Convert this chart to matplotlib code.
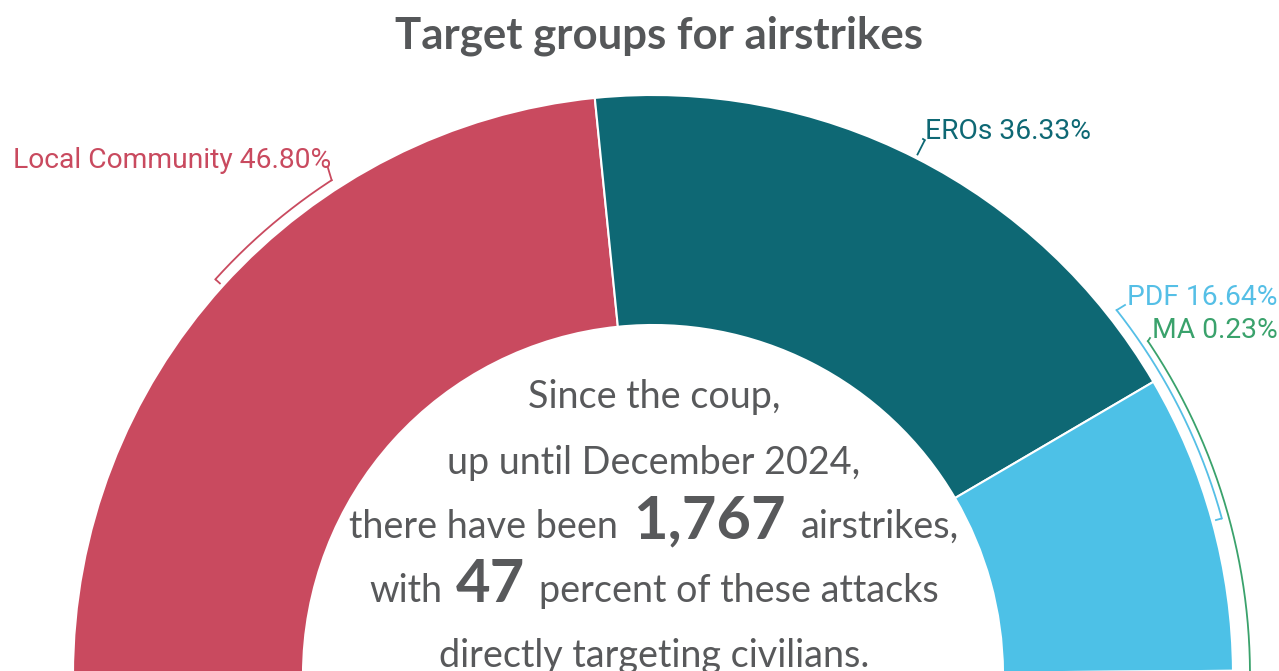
import matplotlib.pyplot as plt
from matplotlib.patches import Wedge
import numpy as np

plt.rcParams['font.family'] = ['Lato', 'DejaVu Sans']

groups = ['Local Community', 'EROs', 'PDF', 'MA']
shares = [46.80, 36.33, 16.64, 0.23]
total_strikes = '1,767'
civilian_pct = '47'

colors = ['#C94A5F', '#0E6874', '#4DC1E7', '#3BA56D']
label_colors = ['#C94A5F', '#0E6874', '#55BFE6', '#3AA26C']
grey = '#58595B'

W, H = 1279, 671
cx, cy = 653, -4          # centre of the half donut (just under the bottom edge)
r_out, r_in = 580, 350

# label layout: where each bracket ends, its radius, and where the text sits
brk_end = [123.0, None, 38.2, 34.0]
brk_r = [590, 600, 590, 597]
lbl_xy = [(331, 503), (925, 532), (1127, 366), (1152, 333)]
lbl_ha = ['right', 'left', 'left', 'left']
lbl_size = 20.3

fig = plt.figure(figsize=(W / 100, H / 100), dpi=100)
ax = fig.add_axes([0, 0, 1, 1])
ax.set_xlim(0, W)
ax.set_ylim(0, H)
ax.axis('off')


def polar(r, a):
    a = np.deg2rad(a)
    return cx + r * np.cos(a), cy + r * np.sin(a)


# wedges, clockwise from the left
theta = 180.0
mids = []
for share, col in zip(shares, colors):
    span = share / sum(shares) * 180.0
    ax.add_patch(Wedge((cx, cy), r_out, theta - span, theta, width=r_out - r_in,
                       facecolor=col, edgecolor='white', linewidth=1.5))
    mids.append(theta - span / 2)
    theta -= span

# brackets + labels
for i, name in enumerate(groups):
    col = label_colors[i]
    a0 = mids[i]
    a1 = brk_end[i] if brk_end[i] is not None else a0
    rb = brk_r[i]
    # tick from the wedge edge out to the bracket
    p0 = polar(r_out + 3, a0)
    p1 = polar(rb, a0)
    ax.plot([p0[0], p1[0]], [p0[1], p1[1]], color=col, lw=1.3, solid_capstyle='butt')
    # arc
    aa = np.linspace(a0, a1, 200)
    xs, ys = polar(rb, aa)
    ax.plot(xs, ys, color=col, lw=1.3)
    # short leader to the text
    pe = polar(rb, a1)
    tx, ty = lbl_xy[i]
    lx = tx - 3 if lbl_ha[i] == 'right' else tx - 2
    ax.plot([pe[0], lx], [pe[1], ty], color=col, lw=1.3)
    ax.text(tx, ty, f'{name} {shares[i]:.2f}%', color=col, fontsize=lbl_size,
            family=['Roboto', 'DejaVu Sans'], ha=lbl_ha[i], va='baseline')

ax.text(659, 623, 'Target groups for airstrikes', fontsize=31.5, fontweight='bold',
        color='#555759', ha='center', va='baseline')

renderer = fig.canvas.get_renderer()


def centered_runs(y, runs, gap=12, xc=654):
    items = []
    for s, size, bold in runs:
        t = ax.text(0, y, s, fontsize=size, fontweight='bold' if bold else 'normal',
                    color=grey, ha='left', va='baseline')
        items.append((t, t.get_window_extent(renderer).width))
    total = sum(w for _, w in items) + gap * (len(items) - 1)
    x = xc - total / 2
    for t, w in items:
        t.set_x(x)
        x += w + gap


body = 27.2
big = 43
centered_runs(263, [('Since the coup,', body, False)])
centered_runs(197, [('up until December 2024,', body, False)])
centered_runs(133, [('there have been', body, False), (total_strikes, big, True),
                    ('airstrikes,', body, False)], gap=15)
centered_runs(69, [('with', body, False), (civilian_pct, big, True),
                   ('percent of these attacks', body, False)], gap=14)
centered_runs(4, [('directly targeting civilians.', body, False)])

fig.savefig('out.png', dpi=100)
